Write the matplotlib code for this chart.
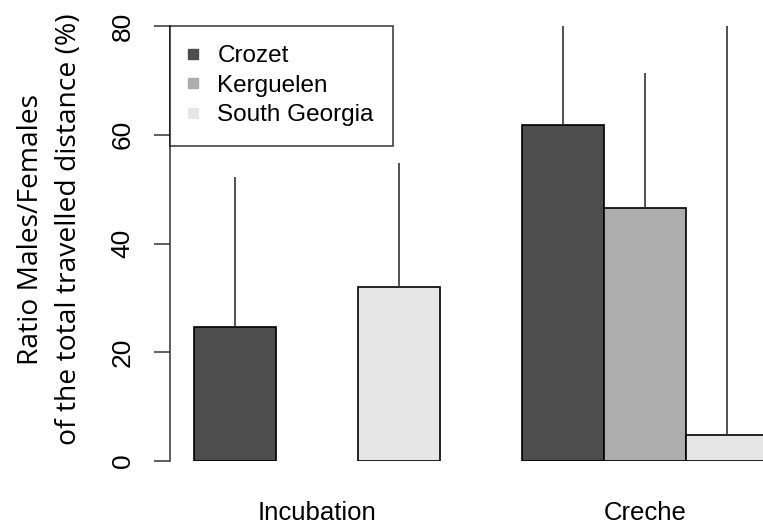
import numpy as np
import matplotlib
matplotlib.use('Agg')
import matplotlib.pyplot as plt
from matplotlib.lines import Line2D

# Datos
groups = ['Incubation', 'Creche']
colonies = ['Crozet', 'Kerguelen', 'South Georgia']
crozet = [24.7, 61.8]
kerguelen = [np.nan, 46.5]
south_georgia = [32.0, 4.8]
# barra de error superior (solo hacia arriba)
crozet_err = [27.5, 26.0]
kerguelen_err = [np.nan, 24.8]
south_georgia_err = [22.8, 85.0]

values = [crozet, kerguelen, south_georgia]
errors = [crozet_err, kerguelen_err, south_georgia_err]
colors = ['#4d4d4d', '#adadad', '#e6e6e6']

plt.rcParams['font.family'] = ['Liberation Sans', 'DejaVu Sans']

fig = plt.figure(figsize=(7.63, 5.24), dpi=100)
ax = fig.add_axes([170 / 763, 63 / 524, 593 / 763, 435 / 524])

# Posiciones estilo R: barras de ancho 1, un espacio entre grupos
n = len(colonies)
for i, (vals, errs, col) in enumerate(zip(values, errors, colors)):
    x = np.arange(len(groups)) * (n + 1) + 1.5 + i
    vals = np.array(vals)
    errs = np.array(errs)
    ok = ~np.isnan(vals)
    ax.bar(x[ok], vals[ok], width=1, color=col, edgecolor='black',
           linewidth=1.2, zorder=2)
    ax.errorbar(x[ok], vals[ok], yerr=[np.zeros(ok.sum()), errs[ok]],
                fmt='none', ecolor='#333333', elinewidth=1.2, capsize=0,
                zorder=3)

centers = np.arange(len(groups)) * (n + 1) + 1.5 + (n - 1) / 2
ax.set_xticks(centers)
ax.set_xticklabels(groups, fontsize=18.5)
ax.tick_params(axis='x', length=0, pad=29)

ax.set_xlim(0.707, 7.939)
ax.set_ylim(0, 80)
ax.set_yticks([0, 20, 40, 60, 80])
ax.set_yticklabels(['0', '20', '40', '60', '80'], rotation=90, va='center',
                   fontsize=19)
ax.tick_params(axis='y', length=11.5, width=1.1, color='#333333', pad=14)

for s in ['top', 'right', 'bottom']:
    ax.spines[s].set_visible(False)
ax.spines['left'].set_linewidth(1.1)
ax.spines['left'].set_color('#333333')

ax.set_ylabel('Ratio Males/Females\nof the total travelled distance (%)',
              fontsize=20.3, family=['Open Sans', 'DejaVu Sans'],
              linespacing=1.45)
ax.yaxis.set_label_coords(-0.147, 0.533)

handles = [Line2D([], [], marker='s', linestyle='none', markersize=6.5,
                  markerfacecolor=c, markeredgecolor=c) for c in colors]
leg = ax.legend(handles, colonies, loc='upper left', bbox_to_anchor=(0, 1),
                borderaxespad=0, fontsize=17.5, frameon=True, fancybox=False,
                handlelength=0.3, handletextpad=0.85, labelspacing=0.3,
                borderpad=0.8)
leg.get_frame().set_edgecolor('black')
leg.get_frame().set_linewidth(1.1)

plt.savefig('out.png', dpi=100)
